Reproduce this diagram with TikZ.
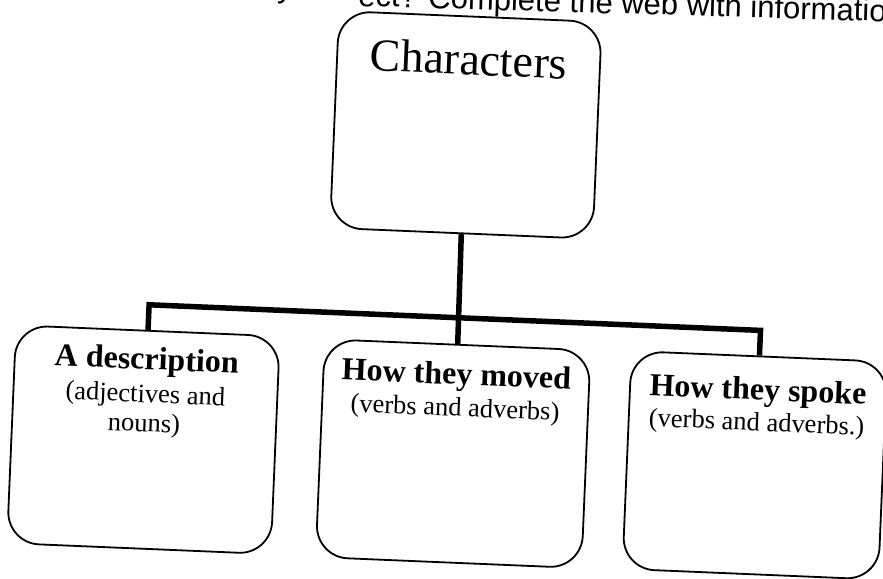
\documentclass[tikz,border=0pt]{standalone}
\usepackage{fontspec}
\setmainfont{Liberation Serif}
\newfontfamily\headfont{Liberation Sans}
\begin{document}
\begin{tikzpicture}[x=1pt,y=-1pt,
  box/.style={draw=black, line width=1.8pt, rounded corners=32pt, minimum width=264pt, minimum height=218pt, inner sep=0pt},
  link/.style={draw=black, line width=5.5pt, line join=miter},
  titletext/.style={font=\fontsize{32}{36}\selectfont\bfseries, inner sep=0pt},
  subtext/.style={font=\fontsize{26.5}{29.5}\selectfont, align=center, inner sep=0pt},
  bigtext/.style={font=\fontsize{46}{50}\selectfont, inner sep=0pt},
  headtext/.style={font=\headfont\fontsize{31}{34}\selectfont, inner sep=0pt, anchor=base west, rotate=-1.7}]
\fill[white] (0,0) rectangle (883,578);
\useasboundingbox (0,0) rectangle (883,578);
\node[headtext] (h1) at (277,-3) {y};
\node[headtext] (h2) at (358,6) {ect? Complete the web with information};
\begin{scope}[rotate around={-2.4:(441,289)}, transform shape]
  \node[box, minimum width=263pt, minimum height=217pt] (top) at (459,124) {};
  \node[bigtext] (ctext) at (459,58) {Characters};
  \node[box] (b1) at (150,452) {};
  \node[box, minimum width=266pt] (b2) at (460,453) {};
  \node[box, minimum width=256pt] (b3) at (762,452) {};
  \coordinate (j1) at (150,317);
  \coordinate (j3) at (762,317);
  \draw[link] (top.south) -- (b2.north);
  \draw[link] (b1.north) -- (j1) -- (j3) -- (b3.north);
  \node[titletext] (t1) at (150,374) {A description};
  \node[subtext] (s1) at (150,423) {(adjectives and\\nouns)};
  \node[titletext] (t2) at (460,376) {How they moved};
  \node[subtext] (s2) at (460,409) {(verbs and adverbs)};
  \node[titletext] (t3) at (762,379) {How they spoke};
  \node[subtext] (s3) at (762,411) {(verbs and adverbs.)};
\end{scope}
\end{tikzpicture}
\end{document}
